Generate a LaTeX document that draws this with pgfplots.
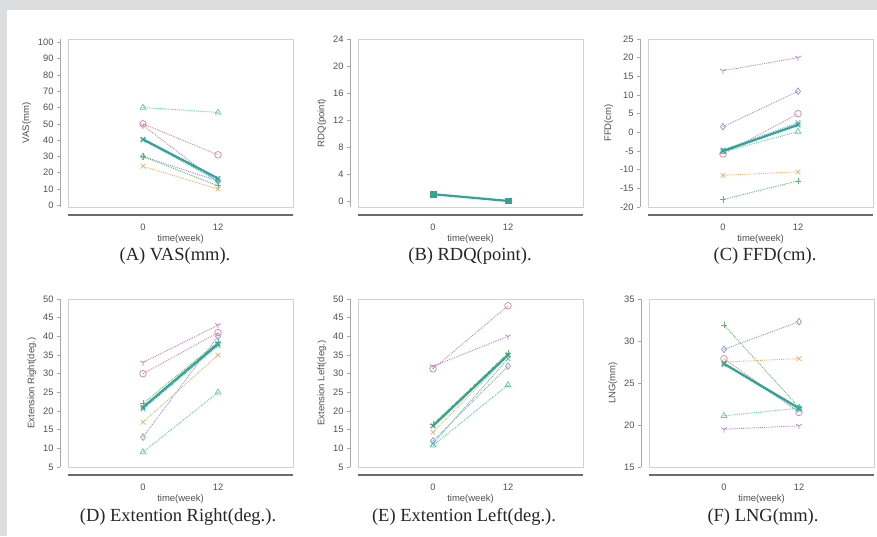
\documentclass[border=0pt]{standalone}
\usepackage{pgfplots}
\pgfplotsset{compat=1.18}
\usepackage{fontspec}
\setmainfont{Liberation Serif}
\newfontfamily\sansf{Liberation Sans}
\usetikzlibrary{plotmarks}

\definecolor{bggray}{HTML}{DCDDDF}
\definecolor{boxgray}{HTML}{D2D2D2}
\definecolor{xaxisgray}{HTML}{6A6A6A}
\definecolor{yaxisgray}{HTML}{A8A8A8}
\definecolor{labgray}{HTML}{505050}
\definecolor{cTeal}{HTML}{34A394}
\definecolor{cTri}{HTML}{5CC9A7}
\definecolor{cCirc}{HTML}{D4849E}
\definecolor{cY}{HTML}{B87FCB}
\definecolor{cDiam}{HTML}{8C97C9}
\definecolor{cOr}{HTML}{E2B26E}
\definecolor{cPlus}{HTML}{5DB86E}
\definecolor{cCyan}{HTML}{4DB8C8}

\pgfplotsset{
  panel/.style={
    scale only axis, width=225pt, height=168pt,
    xmin=-12, xmax=24, xtick={0,12},
    axis x line*=bottom, axis y line*=left,
    axis x line shift=8pt, axis y line shift=8pt,
    x axis line style={-, line width=1.8pt, color=xaxisgray},
    y axis line style={-, line width=0.6pt, color=yaxisgray},
    ytick style={color=yaxisgray, line width=0.6pt},
    xtick style={draw=none},
    major tick length=3pt,
    tick align=outside,
    ticklabel style={font=\sansf\fontsize{9.3}{10}\selectfont, text=labgray},
    xticklabel style={yshift=-2pt},
    xlabel={time(week)},
    xlabel style={yshift=2pt},
    label style={font=\sansf\fontsize{9.5}{10}\selectfont, text=labgray},
    /pgf/number format/assume math mode=true,
    clip=false,
    extra description/.code={\draw[boxgray, line width=0.8pt] (0,0) rectangle (1,1);},
  },
  thin/.style={densely dotted, line width=0.9pt, mark size=3.3pt, mark options={solid, line width=0.7pt}},
  sTri/.style={thin, color=cTri, mark=triangle},
  sCirc/.style={thin, color=cCirc, mark=o},
  sY/.style={thin, color=cY, mark=Mercedes star flipped},
  sDiam/.style={thin, color=cDiam, mark=diamond},
  sOr/.style={thin, color=cOr, mark=x},
  sPlus/.style={thin, color=cPlus, mark=+},
  sCyan/.style={thin, color=cCyan, mark=x},
  sTeal/.style={color=cTeal, solid, line width=2.2pt, mark=x, mark size=3.3pt, mark options={line width=1.1pt}},
}

\begin{document}
\begin{tikzpicture}
\useasboundingbox (0pt,0pt) rectangle (877pt,-536pt);
\fill[bggray] (0pt,0pt) rectangle (877pt,-536pt);
\fill[white] (7pt,-10pt) rectangle (877pt,-536pt);

% (A) VAS
\begin{axis}[panel, at={(68pt,-207pt)}, anchor=south west,
  ymin=-1, ymax=102, ytick={0,10,...,100}, ylabel={VAS(mm)}]
\addplot[sTri] coordinates {(0,60) (12,57)};
\addplot[sCirc] coordinates {(0,50) (12,31)};
\addplot[sY] coordinates {(0,49) (12,14)};
\addplot[sDiam] coordinates {(0,30) (12,15)};
\addplot[sPlus] coordinates {(0,30) (12,12)};
\addplot[sOr] coordinates {(0,24) (12,10)};
\addplot[sCyan] coordinates {(0,40) (12,15)};
\addplot[sTeal] coordinates {(0,40.5) (12,16.5)};
\end{axis}

% (B) RDQ
\begin{axis}[panel, at={(358pt,-207pt)}, anchor=south west,
  ymin=-0.9, ymax=24, ytick={0,4,...,24}, ylabel={RDQ(point)}]
\addplot[sTeal, mark=square*, mark size=2.8pt, mark options={line width=0.6pt}] coordinates {(0,1) (12,0)};
\end{axis}

% (C) FFD
\begin{axis}[panel, at={(648pt,-207pt)}, anchor=south west,
  ymin=-20, ymax=25, ytick={-20,-15,...,25},
  yticklabels={-20,-15,-10,-5,0,5,10,15,20,25}, ylabel={FFD(cm)}]
\addplot[sY] coordinates {(0,16.5) (12,20)};
\addplot[sDiam] coordinates {(0,1.5) (12,11)};
\addplot[sCirc] coordinates {(0,-5.8) (12,5)};
\addplot[sTri] coordinates {(0,-5.2) (12,0.2)};
\addplot[sCyan] coordinates {(0,-4.7) (12,2.6)};
\addplot[sOr] coordinates {(0,-11.5) (12,-10.6)};
\addplot[sPlus] coordinates {(0,-18) (12,-13)};
\addplot[sTeal] coordinates {(0,-5) (12,2)};
\end{axis}

% (D) Extension Right
\begin{axis}[panel, at={(68pt,-467pt)}, anchor=south west,
  ymin=5, ymax=50, ytick={5,10,...,50}, ylabel={Extension Right(deg.)}]
\addplot[sTri] coordinates {(0,9) (12,25)};
\addplot[sDiam] coordinates {(0,13) (12,40)};
\addplot[sOr] coordinates {(0,17) (12,35)};
\addplot[sCyan] coordinates {(0,20.5) (12,37.5)};
\addplot[sPlus] coordinates {(0,22) (12,38.5)};
\addplot[sCirc] coordinates {(0,30) (12,41)};
\addplot[sY] coordinates {(0,33) (12,43)};
\addplot[sTeal] coordinates {(0,21) (12,38)};
\end{axis}

% (E) Extension Left
\begin{axis}[panel, at={(358pt,-467pt)}, anchor=south west,
  ymin=5, ymax=50, ytick={5,10,...,50}, ylabel={Extension Left(deg.)}]
\addplot[sCirc] coordinates {(0,31.3) (12,48.2)};
\addplot[sY] coordinates {(0,32) (12,40)};
\addplot[sPlus] coordinates {(0,16.5) (12,35.5)};
\addplot[sOr] coordinates {(0,14.3) (12,34.7)};
\addplot[sDiam] coordinates {(0,12) (12,32)};
\addplot[sTri] coordinates {(0,10.8) (12,27)};
\addplot[sCyan] coordinates {(0,11.3) (12,34)};
\addplot[sTeal] coordinates {(0,16) (12,35)};
\end{axis}

% (F) LNG
\begin{axis}[panel, at={(649pt,-467pt)}, anchor=south west,
  ymin=15, ymax=35, ytick={15,20,...,35}, ylabel={LNG(mm)}]
\addplot[sPlus] coordinates {(0,31.9) (12,22.1)};
\addplot[sDiam] coordinates {(0,29) (12,32.3)};
\addplot[sCirc] coordinates {(0,27.9) (12,21.5)};
\addplot[sOr] coordinates {(0,27.5) (12,27.9)};
\addplot[sCyan] coordinates {(0,27.2) (12,21.8)};
\addplot[sTri] coordinates {(0,21.1) (12,22)};
\addplot[sY] coordinates {(0,19.5) (12,19.9)};
\addplot[sTeal] coordinates {(0,27.3) (12,22)};
\end{axis}

\begin{scope}[every node/.style={font=\fontsize{18.5}{20}\selectfont, text=black!85}]
\node at (175pt,-256pt) {(A) VAS(mm).};
\node at (470pt,-256pt) {(B) RDQ(point).};
\node at (765pt,-256pt) {(C) FFD(cm).};
\node at (178pt,-517pt) {(D) Extention Right(deg.).};
\node at (464pt,-517pt) {(E) Extention Left(deg.).};
\node at (763pt,-517pt) {(F) LNG(mm).};
\end{scope}
\end{tikzpicture}
\end{document}
